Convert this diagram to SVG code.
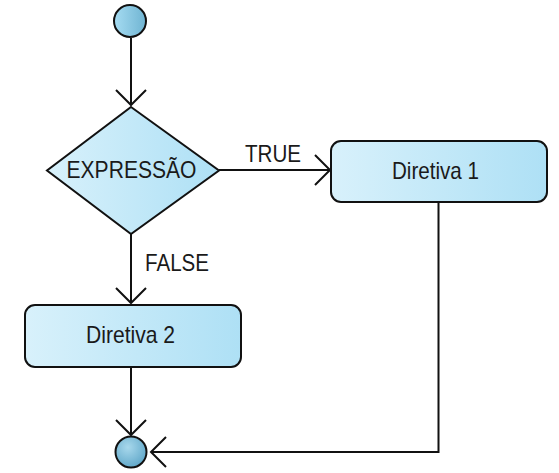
<svg xmlns="http://www.w3.org/2000/svg" width="559" height="473" viewBox="0 0 559 473">
<defs>
<linearGradient id="box" x1="0" y1="0" x2="1" y2="0">
<stop offset="0" stop-color="#d8f1fb"/>
<stop offset="1" stop-color="#aee0f5"/>
</linearGradient>
<linearGradient id="startg" x1="0" y1="0" x2="1" y2="0">
<stop offset="0" stop-color="#a6dcf2"/>
<stop offset="1" stop-color="#6fb4d2"/>
</linearGradient>
<radialGradient id="endg" cx="0.4" cy="0.35" r="0.7">
<stop offset="0" stop-color="#a8d8ec"/>
<stop offset="1" stop-color="#5ea6c8"/>
</radialGradient>
<marker id="arr" markerWidth="20" markerHeight="34" refX="16" refY="16" orient="auto" markerUnits="userSpaceOnUse" viewBox="0 0 20 34">
<path d="M1,1 L16,16 L1,31" fill="none" stroke="#111" stroke-width="2"/>
</marker>
<style>
.shape{stroke:#111;stroke-width:2;}
.lbl{font-family:"Liberation Sans",Arial,sans-serif;font-size:24px;fill:#1a1a1a;}
.edge{fill:none;stroke:#111;stroke-width:2;}
</style>
</defs>
<g id="connectors">
<path class="edge" d="M131,38 L131,105" marker-end="url(#arr)"/>
<path class="edge" d="M219,170 L330,170" marker-end="url(#arr)"/>
<path class="edge" d="M131,234 L131,303" marker-end="url(#arr)"/>
<path class="edge" d="M131,367 L131,435" marker-end="url(#arr)"/>
<path class="edge" d="M438.5,202 L438.5,452 L151,452" marker-end="url(#arr)"/>
<text class="lbl" x="245" y="161.5" textLength="56" lengthAdjust="spacingAndGlyphs">TRUE</text>
<text class="lbl" x="145" y="271" textLength="64" lengthAdjust="spacingAndGlyphs">FALSE</text>
</g>
<g id="start">
<circle class="shape" cx="130" cy="21" r="16" fill="url(#startg)"/>
</g>
<g id="decision">
<polygon class="shape" points="131,107 219,170.5 131,234 47,170.5" fill="url(#box)"/>
<text class="lbl" x="66.5" y="178" textLength="130" lengthAdjust="spacingAndGlyphs">EXPRESSÃO</text>
</g>
<g id="diretiva1">
<rect class="shape" x="331" y="141" width="216" height="61" rx="10" fill="url(#box)"/>
<text class="lbl" x="392" y="179" textLength="87" lengthAdjust="spacingAndGlyphs">Diretiva 1</text>
</g>
<g id="diretiva2">
<rect class="shape" x="25" y="305" width="216" height="62" rx="10" fill="url(#box)"/>
<text class="lbl" x="86" y="343" textLength="89" lengthAdjust="spacingAndGlyphs">Diretiva 2</text>
</g>
<g id="end">
<circle class="shape" cx="131" cy="452" r="15.5" fill="url(#endg)"/>
</g>
</svg>
